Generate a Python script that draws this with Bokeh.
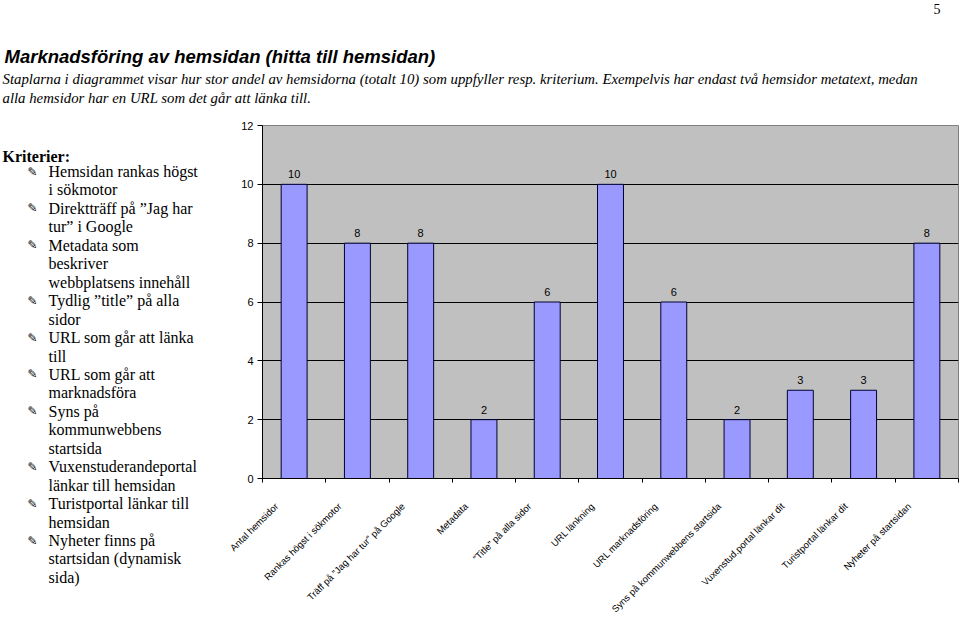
import math
import numpy as np
from bokeh.plotting import figure
from bokeh.models import FixedTicker, Range1d, ColumnDataSource
from bokeh.layouts import column, row
from bokeh.core.properties import value
from bokeh.embed import file_html
from bokeh.resources import INLINE

# ---------------- data ----------------
categories = [
    "Antal hemsidor",
    "Rankas högst i sökmotor",
    "Träff på ”Jag har tur” på Google",
    "Metadata",
    "”Title” på alla sidor",
    "URL länkning",
    "URL marknadsföring",
    "Syns på kommunwebbens startsida",
    "Vuxenstud.portal länkar dit",
    "Turistportal länkar dit",
    "Nyheter på startsidan",
]
values = [10, 8, 8, 2, 6, 10, 6, 2, 3, 3, 8]
y_ticks = [0, 2, 4, 6, 8, 10, 12]

title_text = "Marknadsföring av hemsidan (hitta till hemsidan)"
subtitle_lines = [
    "Staplarna i diagrammet  visar hur stor andel av hemsidorna (totalt 10) som uppfyller resp. kriterium. Exempelvis har endast två hemsidor metatext, medan",
    "alla hemsidor har en URL som det går att länka till.",
]
criteria_heading = "Kriterier:"
# (text, starts a new bullet)
criteria_lines = [
    ("Hemsidan rankas högst", True),
    ("i sökmotor", False),
    ("Direktträff på ”Jag har", True),
    ("tur” i Google", False),
    ("Metadata som", True),
    ("beskriver", False),
    ("webbplatsens innehåll", False),
    ("Tydlig ”title” på alla", True),
    ("sidor", False),
    ("URL som går att länka", True),
    ("till", False),
    ("URL som går att", True),
    ("marknadsföra", False),
    ("Syns på", True),
    ("kommunwebbens", False),
    ("startsida", False),
    ("Vuxenstuderandeportal", True),
    ("länkar till hemsidan", False),
    ("Turistportal länkar till", True),
    ("hemsidan", False),
    ("Nyheter finns på", True),
    ("startsidan (dynamisk", False),
    ("sida)", False),
]
page_number = "5"

# ---------------- layout ----------------
W, H = 959, 625
TOP_H = 120          # header strip height
LEFT_W = 205         # left text column width
BODY_H = H - TOP_H


def blank(width, height, x0, x1, y_top, y_bottom):
    f = figure(width=width, height=height, output_backend="svg",
               toolbar_location=None, x_axis_location=None, y_axis_location=None,
               x_range=Range1d(x0, x1), y_range=Range1d(y_bottom, y_top),
               min_border=0)
    f.frame_align = False
    f.outline_line_color = None
    f.grid.visible = False
    f.background_fill_color = "white"
    f.border_fill_color = "white"
    return f


def put(f, X, Y, text, size, font="Liberation Serif", style="normal",
        align="left", baseline="middle"):
    f.text(x=[X], y=[Y], text=[text], text_font=value(font),
           text_font_size=size, text_font_style=style, text_align=align,
           text_baseline=baseline, text_color="black")


# header
top = blank(W, TOP_H, 0, W, 0, TOP_H)
put(top, 933, 8, page_number, "14px")
put(top, 4, 56, title_text, "18.5px", font="Liberation Sans", style="bold italic")
for i, line in enumerate(subtitle_lines):
    put(top, 2, 78 + i * 19, line, "14.8px", style="italic")

# left criteria column (page coordinates)
left = blank(LEFT_W, BODY_H, 0, LEFT_W, TOP_H, H)
put(left, 2, 156, criteria_heading, "16px", style="bold")
y0, dy = 171, 18.45
for i, (line, bullet) in enumerate(criteria_lines):
    Y = y0 + i * dy
    if bullet:
        put(left, 27, Y, "✎", "12px", font="DejaVu Sans")
    put(left, 48, Y, line, "16px")

# chart
n = len(categories)
xs = np.arange(n) + 0.5
src = ColumnDataSource(dict(x=xs, top=values, lab=[str(v) for v in values]))

p = figure(width=W - LEFT_W, height=BODY_H, output_backend="svg",
           toolbar_location=None,
           x_range=Range1d(0, n), y_range=Range1d(0, 12),
           min_border_left=262 - LEFT_W, min_border_right=1,
           min_border_top=125 - TOP_H, min_border_bottom=147)
p.frame_align = False
p.background_fill_color = "#C0C0C0"
p.border_fill_color = "white"
p.outline_line_color = "#808080"

p.vbar(x="x", top="top", width=0.41, bottom=0, source=src,
       fill_color="#9999FF", line_color="#000033", line_width=1)
p.text(x="x", y="top", text="lab", source=src, text_align="center",
       text_baseline="bottom", y_offset=-6, text_font_size="11px",
       text_font=value("Liberation Sans"), text_color="black")

p.xgrid.visible = False
p.ygrid.ticker = FixedTicker(ticks=y_ticks[1:-1])
p.ygrid.grid_line_color = "black"
p.ygrid.grid_line_width = 1

ya = p.yaxis[0]
ya.ticker = FixedTicker(ticks=y_ticks)
ya.axis_line_color = "black"
ya.major_tick_line_color = "black"
ya.major_tick_out = 5
ya.major_tick_in = 0
ya.minor_tick_line_color = None
ya.major_label_text_font = "Liberation Sans"
ya.major_label_text_font_size = "11px"
ya.major_label_text_color = "black"
ya.major_label_standoff = 4

# category labels sit slightly left of each bar, like the rotated Excel labels
label_pos = [float(x) - 0.28 for x in xs]
xa = p.xaxis[0]
xa.ticker = FixedTicker(ticks=label_pos, minor_ticks=list(range(n + 1)))
xa.major_label_overrides = {lp: c for lp, c in zip(label_pos, categories)}
xa.major_label_orientation = math.pi / 4
xa.major_label_text_font = "Liberation Sans"
xa.major_label_text_font_size = "9.5px"
xa.major_label_text_color = "black"
xa.major_label_standoff = 20
xa.axis_line_color = "black"
xa.major_tick_line_color = None
xa.minor_tick_line_color = "black"
xa.minor_tick_out = 4
xa.minor_tick_in = 0

layout = column(top, row(left, p, spacing=0), spacing=0)
open("out.html", "w").write(file_html(layout, INLINE))
